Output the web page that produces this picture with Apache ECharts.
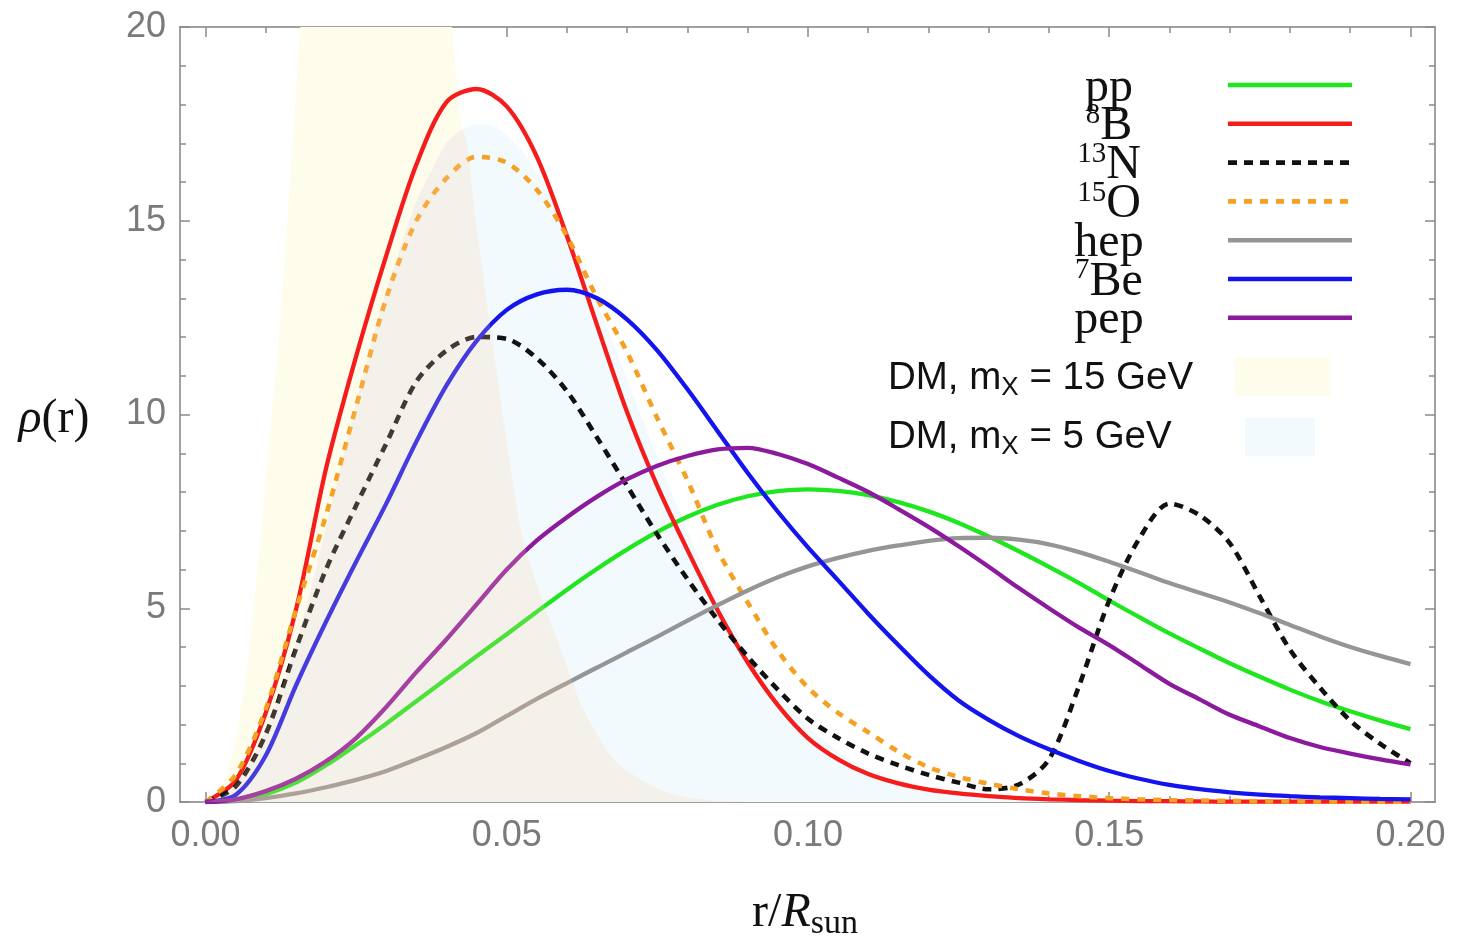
<!DOCTYPE html>
<html lang="en">
<head>
<meta charset="utf-8">
<title>rho(r) vs r/Rsun</title>
<script src="https://cdn.jsdelivr.net/npm/echarts@6.0.0/dist/echarts.min.js"></script>
<style>
  html, body { margin: 0; padding: 0; background: #fff; }
  #main { width: 1457px; height: 944px; }
</style>
</head>
<body>
<div id="main"></div>
<script type="text/javascript">
// r / R_sun grid for the neutrino production curves
var rGrid = [0, 0.005, 0.01, 0.015, 0.02, 0.025, 0.03, 0.035, 0.04, 0.045,
             0.05, 0.055, 0.06, 0.065, 0.07, 0.075, 0.08, 0.085, 0.09, 0.095,
             0.1, 0.105, 0.11, 0.115, 0.12, 0.125, 0.13, 0.135, 0.14, 0.145,
             0.15, 0.155, 0.16, 0.165, 0.17, 0.175, 0.18, 0.185, 0.19, 0.195, 0.2];

var ppVals  = [0, 0.04, 0.2, 0.5, 0.95, 1.47, 2.02, 2.6, 3.18, 3.76,
               4.33, 4.91, 5.48, 6.02, 6.52, 6.97, 7.36, 7.67, 7.89, 8.02,
               8.07, 8.03, 7.92, 7.74, 7.5, 7.2, 6.85, 6.47, 6.07, 5.65,
               5.2, 4.77, 4.35, 3.96, 3.58, 3.23, 2.9, 2.6, 2.34, 2.1, 1.88];
var b8Vals  = [0, 0.55, 2.3, 4.95, 8.6, 11.5, 14.1, 16.45, 18.06, 18.4,
               17.95, 16.65, 14.6, 12.3, 10.05, 8.15, 6.5, 4.95, 3.6, 2.5,
               1.65, 1.1, 0.72, 0.48, 0.32, 0.22, 0.15, 0.1, 0.07, 0.05,
               0.035, 0.025, 0.02, 0.015, 0.01, 0.01, 0.01, 0.01, 0.01, 0.01, 0.01];
var n13Vals = [0, 0.4, 1.75, 3.95, 6.0, 7.65, 9.25, 10.85, 11.65, 12.0,
               11.95, 11.45, 10.6, 9.4, 8.15, 6.9, 5.75, 4.7, 3.75, 2.9,
               2.15, 1.65, 1.25, 0.95, 0.7, 0.5, 0.33, 0.45, 1.1, 3.0,
               5.2, 6.8, 7.7, 7.4, 6.68, 5.3, 3.93, 2.95, 2.1, 1.5, 1.0];
var o15Vals = [0, 0.7, 2.4, 4.95, 7.4, 10.2, 13.0, 15.0, 16.1, 16.65,
               16.5, 15.8, 14.6, 13.0, 11.6, 9.9, 8.3, 6.5, 5.15, 3.9,
               2.95, 2.3, 1.8, 1.3, 0.9, 0.65, 0.47, 0.33, 0.22, 0.15,
               0.1, 0.07, 0.05, 0.04, 0.03, 0.02, 0.02, 0.015, 0.01, 0.01, 0.01];
var hepVals = [0, 0.02, 0.1, 0.22, 0.38, 0.57, 0.8, 1.1, 1.42, 1.78,
               2.22, 2.66, 3.07, 3.47, 3.87, 4.27, 4.68, 5.08, 5.46, 5.8,
               6.08, 6.3, 6.48, 6.62, 6.74, 6.81, 6.82, 6.77, 6.65, 6.45,
               6.2, 5.93, 5.65, 5.4, 5.15, 4.87, 4.57, 4.27, 4.0, 3.77, 3.56];
var be7Vals = [0, 0.18, 1.2, 3.0, 4.65, 6.2, 7.7, 9.3, 10.75, 11.9,
               12.7, 13.1, 13.22, 13.0, 12.45, 11.65, 10.65, 9.57, 8.49, 7.49,
               6.57, 5.72, 4.86, 4.05, 3.28, 2.62, 2.12, 1.7, 1.36, 1.06,
               0.8, 0.6, 0.44, 0.33, 0.25, 0.19, 0.15, 0.12, 0.1, 0.08, 0.07];
var pepVals = [0, 0.07, 0.28, 0.6, 1.05, 1.65, 2.45, 3.35, 4.2, 5.1,
               6.0, 6.75, 7.35, 7.88, 8.33, 8.68, 8.93, 9.1, 9.14, 8.98,
               8.72, 8.37, 8.0, 7.56, 7.1, 6.6, 6.07, 5.52, 5.0, 4.5,
               4.05, 3.55, 3.05, 2.65, 2.25, 1.95, 1.65, 1.42, 1.25, 1.1, 0.97];

// dark matter distributions (finer grid near the centre)
var dmR = [0, 0.0025, 0.005, 0.0075, 0.01, 0.0125, 0.015, 0.0175, 0.02, 0.0225,
           0.025, 0.0275, 0.03, 0.0325, 0.035, 0.0375, 0.04, 0.0425, 0.045, 0.0475,
           0.05, 0.0525, 0.055, 0.0575, 0.06, 0.0625, 0.065, 0.0675, 0.07,
           0.075, 0.08, 0.085, 0.09, 0.095, 0.1, 0.105, 0.11, 0.115, 0.12,
           0.125, 0.13, 0.135, 0.14, 0.145, 0.15, 0.2];
var dm15Vals = [0, 0.3, 1.6, 4.3, 8.3, 12.6, 18.3, 24, 29, 33,
                35, 36.5, 37, 36, 33, 28, 21.8, 17.4, 14.8, 12.0,
                9.3, 6.9, 5.6, 4.55, 3.5, 2.45, 1.75, 1.15, 0.8,
                0.35, 0.12, 0.03, 0, 0, 0, 0, 0, 0, 0,
                0, 0, 0, 0, 0, 0, 0];
var dm5Vals  = [0, 0.12, 0.45, 1.05, 1.9, 2.9, 4.1, 5.5, 7.1, 8.7,
                10.3, 11.8, 13.2, 14.4, 15.5, 16.3, 17.0, 17.35, 17.5, 17.45,
                17.2, 16.8, 16.2, 15.55, 14.8, 13.9, 12.9, 11.9, 10.9,
                8.9, 7.0, 5.3, 3.9, 2.8, 1.95, 1.3, 0.85, 0.55, 0.35,
                0.22, 0.13, 0.08, 0.04, 0.02, 0.01, 0];
// where both DM fills overlap (darker beige patch)
var dmBothVals = [0, 0.12, 0.45, 1.05, 1.9, 2.9, 4.1, 5.5, 7.1, 8.7,
                  10.3, 11.8, 13.2, 14.4, 15.5, 16.3, 17.0, 17.35, 14.8, 12.0,
                  9.3, 6.9, 5.6, 4.55, 3.5, 2.45, 1.75, 1.15, 0.8,
                  0.35, 0.12, 0.03, 0, 0, 0, 0, 0, 0, 0,
                  0, 0, 0, 0, 0, 0, 0];

var seriesNames = ['pp', '8B', '13N', '15O', 'hep', '7Be', 'pep'];
var legendText = ['pp', '{sup|8}B', '{sup|13}N', '{sup|15}O', 'hep', '{sup|7}Be', 'pep'];
var dmNames = ['DM, m{sub|X} = 15 GeV', 'DM, m{sub|X} = 5 GeV'];
var xTicks = [0, 0.05, 0.1, 0.15, 0.2];
var xMinorTicks = [0, 0.01, 0.02, 0.03, 0.04, 0.05, 0.06, 0.07, 0.08, 0.09, 0.1,
                   0.11, 0.12, 0.13, 0.14, 0.15, 0.16, 0.17, 0.18, 0.19, 0.2];

var allVals = [ppVals, b8Vals, n13Vals, o15Vals, hepVals, be7Vals, pepVals];
var colors = ['#1fe61f', '#f51c1c', '#111111', '#f5a023', '#959595', '#1414ee', '#8c1a9c'];
var dashes = [null, null, [9, 7], [8, 8], null, null, null];

var serif = '"Liberation Serif", "Times New Roman", serif';
var sans = '"Liberation Sans", Arial, sans-serif';
var xMin = -0.00423, xMax = 0.20407;

function pairs(xs, ys) {
    return xs.map(function (x, i) { return [x, ys[i]]; });
}

var myChart = echarts.init(document.getElementById('main'));

function xAx(pos, ticks, len, labels) {
    return {
        type: 'value', position: pos, min: xMin, max: xMax,
        axisLine: {show: true, onZero: false, lineStyle: {color: '#9a9a9a', width: 1.5}},
        axisTick: {show: true, inside: true, length: len, customValues: ticks,
                   lineStyle: {color: '#8a8a8a', width: 1.5}},
        axisLabel: labels ? {
            show: true, customValues: ticks, margin: 16,
            fontSize: 36, fontFamily: sans, color: '#7a7a7a',
            formatter: function (v) { return v.toFixed(2); }
        } : {show: false},
        splitLine: {show: false}
    };
}
function yAx(pos, step, len, labels) {
    return {
        type: 'value', position: pos, min: 0, max: 20, interval: step,
        axisLine: {show: true, onZero: false, lineStyle: {color: '#9a9a9a', width: 1.5}},
        axisTick: {show: true, inside: true, length: len, lineStyle: {color: '#8a8a8a', width: 1.5}},
        axisLabel: labels ? {show: true, margin: 14, fontSize: 36, fontFamily: sans, color: '#7a7a7a'} : {show: false},
        splitLine: {show: false}
    };
}

var series = [];
// DM fills under the curves
series.push({
    type: 'line', name: 'DM 15 GeV', data: pairs(dmR, dm15Vals), smooth: 0.3,
    symbol: 'none', silent: true, z: 1,
    lineStyle: {width: 0}, areaStyle: {color: '#fefdec', opacity: 1}
});
series.push({
    type: 'line', name: 'DM 5 GeV', data: pairs(dmR, dm5Vals), smooth: 0.3,
    symbol: 'none', silent: true, z: 1,
    lineStyle: {width: 0}, areaStyle: {color: '#f2fafd', opacity: 1}
});
seriesNames.forEach(function (name, i) {
    series.push({
        type: 'line', name: name, data: pairs(rGrid, allVals[i]), smooth: 0.3,
        symbol: 'none', z: 2,
        lineStyle: {color: colors[i], width: dashes[i] ? 4.6 : 4.3, type: dashes[i] || 'solid', cap: 'butt'}
    });
});
// overlap patch sits on top and tints the curves below it
series.push({
    type: 'line', name: 'DM overlap', data: pairs(dmR, dmBothVals), smooth: 0.3,
    symbol: 'none', silent: true, z: 3,
    lineStyle: {width: 0}, areaStyle: {color: 'rgba(255,210,170,0.3)'}
});

var graphic = [];
legendText.forEach(function (t, i) {
    var y = 85 + i * 38.8;
    graphic.push({
        type: 'text', x: 1109, y: y + 3, z: 10,
        style: {
            text: t, fontFamily: serif, fontSize: 48, lineHeight: 52, fill: '#111',
            align: 'center', verticalAlign: 'middle',
            rich: {sup: {fontFamily: serif, fontSize: 29, lineHeight: 29, verticalAlign: 'top', fill: '#111'}}
        }
    });
    graphic.push({
        type: 'line', z: 10,
        shape: {x1: 1228, y1: y, x2: 1352, y2: y},
        style: {stroke: colors[i], lineWidth: 4.6, lineDash: dashes[i]}
    });
});
dmNames.forEach(function (t, i) {
    graphic.push({
        type: 'text', x: 888, y: 378 + i * 59, z: 10,
        style: {
            text: t, fontFamily: sans, fontSize: 38.5, lineHeight: 46, fill: '#111',
            align: 'left', verticalAlign: 'middle',
            rich: {sub: {fontFamily: sans, fontSize: 26, lineHeight: 26, verticalAlign: 'bottom', fill: '#111'}}
        }
    });
});
graphic.push({type: 'rect', z: 10, shape: {x: 1235, y: 358, width: 95, height: 38}, style: {fill: '#fefdec'}});
graphic.push({type: 'rect', z: 10, shape: {x: 1245, y: 418, width: 70, height: 38}, style: {fill: '#f2fafd'}});
// axis names
graphic.push({
    type: 'text', x: 54, y: 419, z: 10,
    style: {
        text: '{i|ρ}(r)', fontFamily: serif, fontSize: 48, fill: '#111',
        align: 'center', verticalAlign: 'middle',
        rich: {i: {fontFamily: serif, fontSize: 48, fontStyle: 'italic', fill: '#111'}}
    }
});
graphic.push({
    type: 'text', x: 805, y: 913, z: 10,
    style: {
        text: 'r/{i|R}{sub|sun}', fontFamily: serif, fontSize: 48, lineHeight: 56, fill: '#111',
        align: 'center', verticalAlign: 'middle',
        rich: {
            i: {fontFamily: serif, fontSize: 48, lineHeight: 56, fontStyle: 'italic', fill: '#111'},
            sub: {fontFamily: serif, fontSize: 34, lineHeight: 34, verticalAlign: 'bottom', fill: '#111'}
        }
    }
});

option = {
    animation: false,
    backgroundColor: '#ffffff',
    grid: {left: 180, right: 22, top: 27, bottom: 142, containLabel: false},
    xAxis: [
        xAx('bottom', xTicks, 10, true),
        xAx('top', xTicks, 10, false),
        xAx('bottom', xMinorTicks, 6, false),
        xAx('top', xMinorTicks, 6, false)
    ],
    yAxis: [
        yAx('left', 5, 10, true),
        yAx('right', 5, 10, false),
        yAx('left', 1, 6, false),
        yAx('right', 1, 6, false)
    ],
    series: series,
    graphic: graphic
};
myChart.setOption(option);
</script>
</body>
</html>
